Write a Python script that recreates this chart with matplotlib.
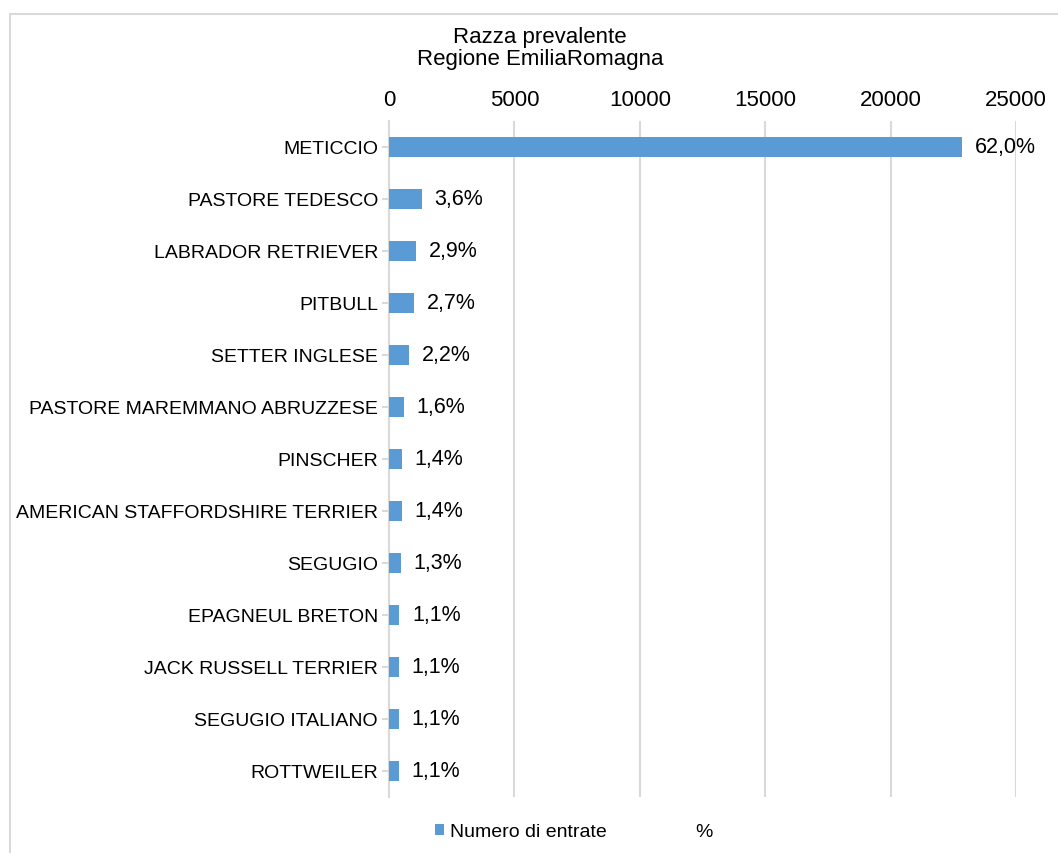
import matplotlib
matplotlib.use("Agg")
import matplotlib.pyplot as plt
from matplotlib.patches import Patch, Rectangle
from matplotlib.lines import Line2D

plt.rcParams['font.family'] = ['Liberation Sans', 'DejaVu Sans']

razze = ["METICCIO", "PASTORE TEDESCO", "LABRADOR RETRIEVER", "PITBULL",
         "SETTER INGLESE", "PASTORE MAREMMANO ABRUZZESE", "PINSCHER",
         "AMERICAN STAFFORDSHIRE TERRIER", "SEGUGIO", "EPAGNEUL BRETON",
         "JACK RUSSELL TERRIER", "SEGUGIO ITALIANO", "ROTTWEILER"]
entrate = [22865, 1320, 1075, 1000, 800, 600, 530, 525, 480, 415, 410, 405, 400]
percentuali = ["62,0%", "3,6%", "2,9%", "2,7%", "2,2%", "1,6%", "1,4%",
               "1,4%", "1,3%", "1,1%", "1,1%", "1,1%", "1,1%"]
xticks = [0, 5000, 10000, 15000, 20000, 25000]

W, H = 1058, 854
fig = plt.figure(figsize=(W / 100, H / 100), dpi=100)
ax = fig.add_axes([389 / W, 1 - 798 / H, (1016 - 389) / W, (798 - 122) / H])

bar_color = "#5B9BD5"
ypos = list(range(len(razze)))
ax.barh(ypos, entrate, height=0.4, color=bar_color, zorder=3)
ax.set_ylim(len(razze) - 0.5, -0.5)
ax.set_xlim(0, 25000)
ax.set_xticks(xticks)
ax.xaxis.tick_top()
ax.tick_params(axis='x', length=0, labelsize=16, pad=8, colors='black')
ax.set_yticks(ypos)
ax.set_yticklabels(razze)
ax.tick_params(axis='y', length=5, labelsize=14, pad=3, color='#D9D9D9', width=1.5)
ax.grid(axis='x', color='#D9D9D9', linewidth=1.5, zorder=0)
for s in ['top', 'right', 'bottom']:
    ax.spines[s].set_visible(False)
ax.spines['left'].set_color('#D9D9D9')
ax.spines['left'].set_linewidth(1.5)

for y, v, p in zip(ypos, entrate, percentuali):
    ax.annotate(p, (v, y), xytext=(9, 0), textcoords='offset points',
                va='center', ha='left', fontsize=15.5, color='black', zorder=4)

fig.text(540 / W, 1 - 38 / H, "Razza prevalente", ha='center', va='center', fontsize=16)
fig.text(540 / W, 1 - 59 / H, "Regione EmiliaRomagna", ha='center', va='center', fontsize=16)

# outer frame
fig.patches.append(Rectangle((9.5 / W, -0.05), 1.2, 1 - 14.5 / H + 0.05,
                             transform=fig.transFigure, fill=False,
                             edgecolor='#D9D9D9', linewidth=1.5))

handles = [Patch(facecolor=bar_color, edgecolor='none'),
           Line2D([], [], linestyle='none', marker=None)]
leg = fig.legend(handles, ["Numero di entrate", "%"], loc='center',
                 bbox_to_anchor=(574 / W, 1 - 833 / H), ncol=2, frameon=False,
                 fontsize=14, handlelength=0.45, handleheight=0.45,
                 handletextpad=0.3, columnspacing=3.8)

fig.savefig("out.png", dpi=100)
